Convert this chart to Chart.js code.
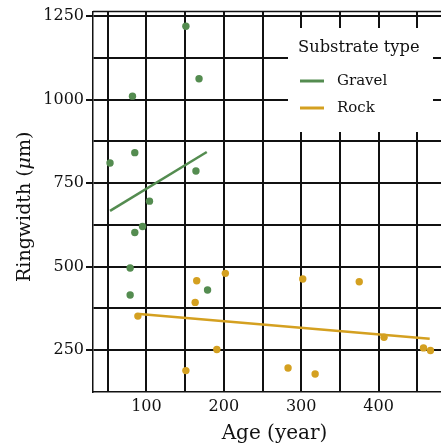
<!DOCTYPE html>
<html>
<head>
<meta charset="utf-8">
<script src="https://cdn.jsdelivr.net/npm/chart.js@4/dist/chart.umd.min.js"></script>
<style>
html,body{margin:0;padding:0;background:#fff;overflow:hidden;}
#wrap{position:relative;width:460px;height:448px;}
</style>
</head>
<body>
<div id="wrap"><canvas id="c"></canvas></div>
<script>
// ---- data ----
const gravelAge   = [53, 82, 85, 151, 168, 164, 104, 85, 95, 79, 79, 179];
const gravelWidth = [810, 1010, 841, 1219, 1062, 786, 696, 602, 620, 496, 415, 430];
const rockAge     = [165, 163, 89, 151, 191, 202, 302, 375, 283, 318, 407, 458, 467];
const rockWidth   = [458, 393, 352, 189, 252, 480, 463, 455, 197, 179, 289, 257, 249];
const gravelFitAge   = [53, 178];
const gravelFitWidth = [667, 843];
const rockFitAge     = [91, 466];
const rockFitWidth   = [358, 284];
const xTickValues = [50, 100, 150, 200, 250, 300, 350, 400, 450];
const xTickLabels = [100, 200, 300, 400];
const yTickValues = [250, 375, 500, 625, 750, 875, 1000, 1125, 1250];
const yTickLabels = [250, 500, 750, 1000, 1250];
const seriesNames = ['Gravel', 'Rock'];
const legendTitle = 'Substrate type';

const GREEN = 'rgb(84,140,80)';
const GOLD = 'rgb(212,160,32)';
const FONT = "'DejaVu Serif', serif";

const pts = (xs, ys) => xs.map((x, i) => ({x: x, y: ys[i]}));

const topBorderPlugin = {
  id: 'topBorder',
  beforeDatasetsDraw(chart) {
    const ctx = chart.ctx, a = chart.chartArea;
    ctx.save();
    ctx.strokeStyle = '#111';
    ctx.lineWidth = 1.5;
    ctx.beginPath();
    ctx.moveTo(a.left, a.top);
    ctx.lineTo(a.right, a.top);
    ctx.stroke();
    ctx.restore();
  }
};

const legendPlugin = {
  id: 'boxLegend',
  afterDatasetsDraw(chart) {
    const ctx = chart.ctx;
    ctx.save();
    ctx.fillStyle = '#fff';
    ctx.fillRect(288, 28, 145, 104);
    ctx.fillStyle = '#111';
    ctx.textBaseline = 'middle';
    ctx.textAlign = 'left';
    ctx.font = "16.3px " + FONT;
    ctx.fillText(legendTitle, 298, 48);
    const cols = [GREEN, GOLD];
    const ys = [81, 108];
    ctx.font = "15px " + FONT;
    seriesNames.forEach((n, i) => {
      ctx.strokeStyle = cols[i];
      ctx.lineWidth = 3;
      ctx.beginPath();
      ctx.moveTo(300, ys[i]);
      ctx.lineTo(324, ys[i]);
      ctx.stroke();
      ctx.fillStyle = '#111';
      ctx.fillText(n, 337, ys[i]);
    });
    ctx.restore();
  }
};

const yTitlePlugin = {
  id: 'yTitle',
  afterDraw(chart) {
    const ctx = chart.ctx;
    const a = chart.chartArea;
    ctx.save();
    ctx.translate(25, (a.top + a.bottom) / 2 + 5);
    ctx.rotate(-Math.PI / 2);
    ctx.fillStyle = '#111';
    ctx.textBaseline = 'middle';
    const parts = [['Ringwidth (', 'normal'], ['\u03bc', 'italic'], ['m)', 'normal']];
    let total = 0;
    parts.forEach(p => { ctx.font = p[1] + " 19px " + FONT; total += ctx.measureText(p[0]).width; });
    let x = -total / 2;
    ctx.textAlign = 'left';
    parts.forEach(p => { ctx.font = p[1] + " 19px " + FONT; ctx.fillText(p[0], x, 0); x += ctx.measureText(p[0]).width; });
    ctx.restore();
  }
};

new Chart(document.getElementById('c'), {
  type: 'scatter',
  data: {
    datasets: [
      {label: seriesNames[0], data: pts(gravelAge, gravelWidth), backgroundColor: GREEN, borderColor: GREEN, pointRadius: 3.7, pointBorderWidth: 0},
      {label: seriesNames[1], data: pts(rockAge, rockWidth), backgroundColor: GOLD, borderColor: GOLD, pointRadius: 3.7, pointBorderWidth: 0},
      {label: seriesNames[0] + ' fit', type: 'line', data: pts(gravelFitAge, gravelFitWidth), borderColor: GREEN, borderWidth: 2.5, pointRadius: 0, showLine: true, fill: false},
      {label: seriesNames[1] + ' fit', type: 'line', data: pts(rockFitAge, rockFitWidth), borderColor: GOLD, borderWidth: 2.5, pointRadius: 0, showLine: true, fill: false}
    ]
  },
  options: {
    responsive: true,
    maintainAspectRatio: false,
    animation: false,
    layout: {padding: {top: 10, right: 0, left: 0, bottom: 0}},
    plugins: {legend: {display: false}, tooltip: {enabled: false}},
    scales: {
      x: {
        type: 'linear', min: 31, max: 500,
        afterBuildTicks: s => { s.ticks = xTickValues.map(v => ({value: v})); },
        afterFit: s => { s.height = 56; },
        ticks: {
          autoSkip: false, maxRotation: 0, padding: 5,
          color: '#111', font: {family: FONT, size: 16},
          callback: v => xTickLabels.includes(v) ? String(v) : ''
        },
        grid: {color: '#111', lineWidth: 2, drawTicks: false},
        border: {color: '#111', width: 1.5},
        title: {display: true, text: 'Age (year)', color: '#111', font: {family: FONT, size: 20}, padding: {top: 0, bottom: 2}}
      },
      y: {
        type: 'linear', min: 125, max: 1263,
        afterBuildTicks: s => { s.ticks = yTickValues.map(v => ({value: v})); },
        afterFit: s => { s.width = 93; },
        ticks: {
          autoSkip: false, padding: 2,
          color: '#111', font: {family: FONT, size: 16},
          callback: v => yTickLabels.includes(v) ? String(v) : ''
        },
        grid: {
          color: '#111', lineWidth: 2, tickLength: 7,
          tickColor: c => (c.tick && yTickLabels.includes(c.tick.value)) ? '#111' : 'rgba(0,0,0,0)'
        },
        border: {color: '#111', width: 1.5}
      }
    }
  },
  plugins: [topBorderPlugin, legendPlugin, yTitlePlugin]
});
</script>
</body>
</html>
